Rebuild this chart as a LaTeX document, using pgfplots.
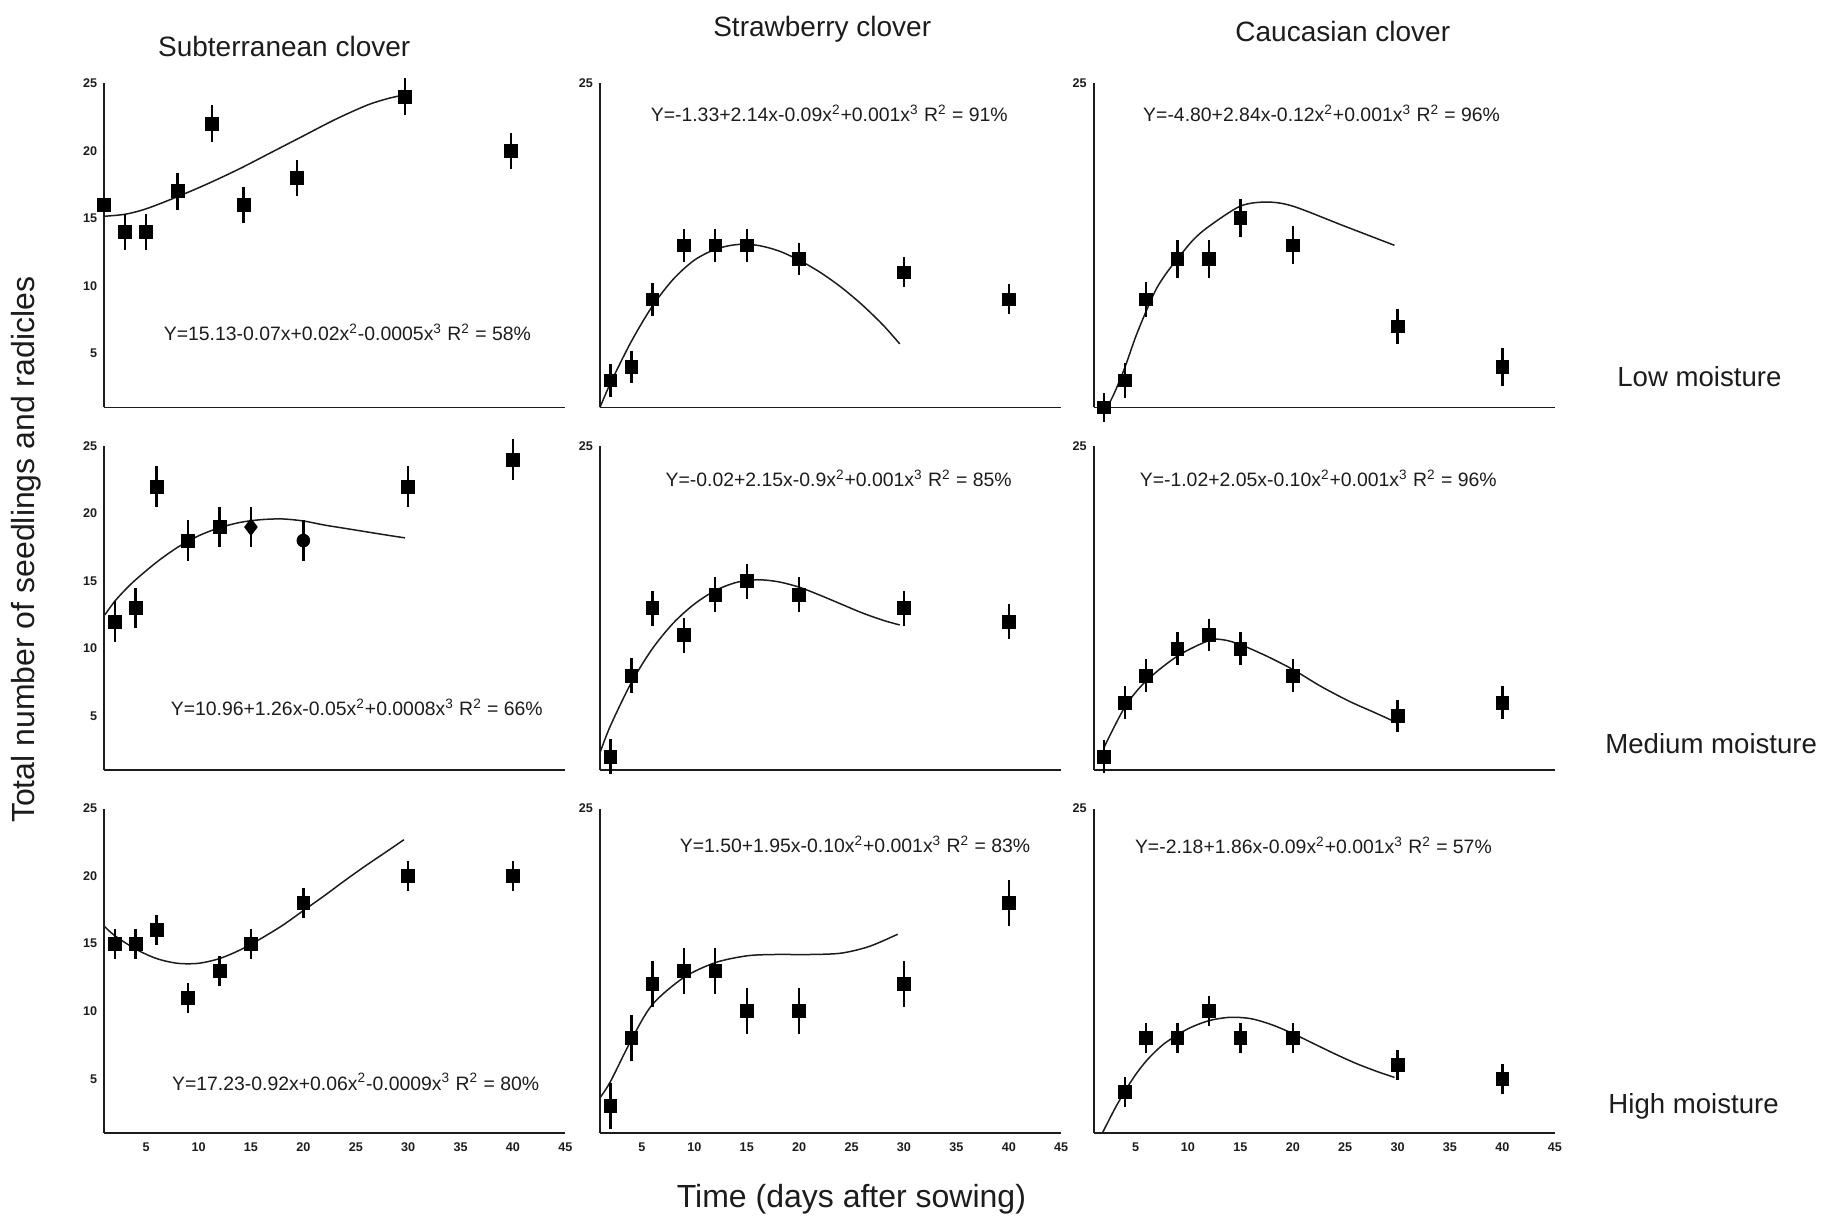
\documentclass[border=0pt]{standalone}
\usepackage{pgfplots}
\pgfplotsset{compat=1.18}
\usepackage{fontspec}
\setmainfont{Liberation Sans}
\definecolor{ink}{HTML}{1C1C1C}
\newcommand{\eqf}{\fontsize{9.7}{11}\selectfont}
\newcommand{\sq}[1]{\textsuperscript{#1}}
\begin{document}
\begin{tikzpicture}
\useasboundingbox (0pt,0pt) rectangle (917pt,-608pt);
\pgfplotsset{
  panel/.style={
    scale only axis, width=230.6pt, height=162.1pt,
    xmin=1, xmax=45, ymin=1, ymax=25,
    axis x line=bottom, axis y line=left,
    axis line style={ink, line width=0.9pt, -},
    major tick length=0pt,
    xtick=\empty, ytick={25},
    tick label style={font=\fontsize{6.3}{7}\selectfont\bfseries, text=ink},
    /pgf/number format/assume math mode=true,
    clip=false, anchor=south west,
  },
  leftcol/.style={ytick={5,10,15,20,25}},
  bottomrow/.style={xtick={5,10,...,45}, xticklabel shift=1.5pt},
  dat/.style={only marks, mark=square*, mark size=3.2pt, color=black,
    error bars/y dir=both, error bars/y explicit,
    error bars/error bar style={line width=1.15pt, black},
    error bars/error mark=none},
  fit/.style={no marks, smooth, color=ink, line width=0.75pt},
}
% ---------- Row 1: Low moisture ----------
\begin{axis}[panel, leftcol, at={(52.1pt,-203.7pt)}]
\addplot[fit] coordinates {(1,15.15) (3,15.3) (5,15.7) (8,16.6) (11,17.6) (14,18.7) (17,19.9) (20,21.1) (23,22.3) (26,23.35) (28,23.85) (29.7,24.15)};
\addplot[dat] table[x=x,y=y,y error=e,row sep=\\] {x y e\\ 1 16 0\\ 3 14 1.35\\ 5 14 1.35\\ 8 17 1.35\\ 11.3 22 1.35\\ 14.3 16 1.35\\ 19.4 18 1.35\\ 29.7 24 1.35\\ 39.8 20 1.35\\};
\end{axis}
\begin{axis}[panel, at={(300.0pt,-203.7pt)}]
\addplot[fit] coordinates {(1,1.0) (2,2.8) (4,5.9) (6,8.5) (8,10.5) (10,11.9) (12,12.7) (14,13.05) (16,13.0) (18,12.6) (20,11.9) (22,11.0) (24,9.9) (26,8.6) (28,7.1) (29.6,5.7)};
\addplot[dat] table[x=x,y=y,y error=e,row sep=\\] {x y e\\ 2 3 1.2\\ 4 4 1.2\\ 6 9 1.2\\ 9 13 1.2\\ 12 13 1.2\\ 15 13 1.2\\ 20 12 1.2\\ 30 11 1.1\\ 40 9 1.1\\};
\end{axis}
\begin{axis}[panel, at={(546.8pt,-203.7pt)}]
\addplot[fit] coordinates {(2.3,1.0) (3,2.1) (4,4.0) (5,6.2) (6,8.1) (7,9.8) (8,11.0) (9,12.0) (10.5,13.4) (12,14.4) (15,15.9) (17.5,16.2) (20,15.9) (25,14.4) (29.7,13.0)};
\addplot[dat] table[x=x,y=y,y error=e,row sep=\\] {x y e\\ 2 1 1.05\\ 4 3 1.3\\ 6 9 1.3\\ 9 12 1.4\\ 12 12 1.4\\ 15 15 1.4\\ 20 13 1.4\\ 30 7 1.3\\ 40 4 1.4\\};
\end{axis}
% ---------- Row 2: Medium moisture ----------
\begin{axis}[panel, leftcol, at={(52.1pt,-385.1pt)}]
\addplot[fit] coordinates {(1.06,12.5) (2,13.5) (3,14.35) (4,15.1) (6,16.4) (8,17.5) (10,18.35) (12,18.95) (14,19.35) (16,19.55) (18,19.6) (20,19.45) (22,19.15) (24,18.9) (26,18.65) (28,18.4) (29.7,18.2)};
\addplot[dat] table[x=x,y=y,y error=e,row sep=\\] {x y e\\ 2 12 1.5\\ 4 13 1.5\\ 6 22 1.5\\ 9 18 1.5\\ 12 19 1.5\\ 30 22 1.5\\ 40 24 1.5\\};
\addplot[dat, mark=diamond*, mark size=4.2pt] table[x=x,y=y,y error=e,row sep=\\] {x y e\\ 15 19 1.5\\};
\addplot[dat, mark=*, mark size=3.2pt] table[x=x,y=y,y error=e,row sep=\\] {x y e\\ 20 18 1.5\\};
\end{axis}
\begin{axis}[panel, at={(300.0pt,-385.1pt)}]
\addplot[fit] coordinates {(1,2.3) (2,4.3) (4,7.5) (6,10.0) (8,11.9) (10,13.3) (12,14.3) (14,14.9) (16,15.1) (18,14.95) (20,14.55) (22,13.95) (24,13.3) (26,12.65) (28,12.1) (29.6,11.75)};
\addplot[dat] table[x=x,y=y,y error=e,row sep=\\] {x y e\\ 2 2 1.3\\ 4 8 1.3\\ 6 13 1.3\\ 9 11 1.3\\ 12 14 1.3\\ 15 15 1.3\\ 20 14 1.3\\ 30 13 1.3\\ 40 12 1.3\\};
\end{axis}
\begin{axis}[panel, at={(546.8pt,-385.1pt)}]
\addplot[fit] coordinates {(2,2.7) (4,5.7) (6,7.6) (9,9.45) (12,10.6) (13.4,10.65) (15,10.3) (17.5,9.45) (20,8.46) (22.7,7.2) (25.4,6.1) (27.8,5.27) (29.7,4.6)};
\addplot[dat] table[x=x,y=y,y error=e,row sep=\\] {x y e\\ 2 2 1.2\\ 4 6 1.2\\ 6 8 1.2\\ 9 10 1.2\\ 12 11 1.2\\ 15 10 1.2\\ 20 8 1.2\\ 30 5 1.2\\ 40 6 1.2\\};
\end{axis}
% ---------- Row 3: High moisture ----------
\begin{axis}[panel, leftcol, bottomrow, at={(52.1pt,-566.4pt)}]
\addplot[fit] coordinates {(1,16.3) (2,15.6) (4,14.6) (6,13.9) (8,13.55) (10,13.55) (12,13.9) (14,14.55) (16,15.4) (18,16.35) (20,17.45) (22,18.55) (24,19.7) (26,20.8) (28,21.85) (29.6,22.7)};
\addplot[dat] table[x=x,y=y,y error=e,row sep=\\] {x y e\\ 2 15 1.1\\ 4 15 1.1\\ 6 16 1.1\\ 9 11 1.1\\ 12 13 1.1\\ 15 15 1.1\\ 20 18 1.1\\ 30 20 1.1\\ 40 20 1.1\\};
\end{axis}
\begin{axis}[panel, bottomrow, at={(300.0pt,-566.4pt)}]
\addplot[fit] coordinates {(1,3.6) (2,4.8) (4,7.9) (6,10.5) (9,12.5) (12,13.6) (15,14.1) (17.6,14.2) (21,14.2) (24,14.3) (26.7,14.8) (29.4,15.7)};
\addplot[dat] table[x=x,y=y,y error=e,row sep=\\] {x y e\\ 2 3 1.7\\ 4 8 1.7\\ 6 12 1.7\\ 9 13 1.7\\ 12 13 1.7\\ 15 10 1.7\\ 20 10 1.7\\ 30 12 1.7\\ 40 18 1.7\\};
\end{axis}
\begin{axis}[panel, bottomrow, at={(546.8pt,-566.4pt)}]
\addplot[fit] coordinates {(1.85,1.0) (3,2.75) (4,4.1) (5,5.3) (6,6.3) (7,7.1) (8,7.75) (10,8.7) (12,9.3) (14,9.55) (16,9.45) (18,9.0) (20,8.35) (22,7.6) (24,6.85) (26,6.15) (28,5.55) (29.7,5.1)};
\addplot[dat] table[x=x,y=y,y error=e,row sep=\\] {x y e\\ 4 4 1.1\\ 6 8 1.1\\ 9 8 1.1\\ 12 10 1.1\\ 15 8 1.1\\ 20 8 1.1\\ 30 6 1.1\\ 40 5 1.1\\};
\end{axis}
% ---------- Texts ----------
\begin{scope}[every node/.style={text=ink, inner sep=0pt}]
\node[font=\fontsize{14}{16}\selectfont] at (142.1pt,-23.4pt) {Subterranean clover};
\node[font=\fontsize{14}{16}\selectfont] at (411.1pt,-14.6pt) {Strawberry clover};
\node[font=\fontsize{14}{16}\selectfont] at (671.4pt,-15.8pt) {Caucasian clover};
\node[font=\fontsize{16}{18}\selectfont, rotate=90] at (12.9pt,-274.9pt) {Total number of seedlings and radicles};
\node[font=\fontsize{16}{18}\selectfont] at (425.7pt,-599.4pt) {Time (days after sowing)};
\node[font=\fontsize{13.8}{16}\selectfont] at (849.7pt,-188.3pt) {Low moisture};
\node[font=\fontsize{13.8}{16}\selectfont] at (855.6pt,-371.9pt) {Medium moisture};
\node[font=\fontsize{13.8}{16}\selectfont] at (846.8pt,-553.2pt) {High moisture};
\node[font=\eqf] at (173.7pt,-166.1pt) {Y=15.13-0.07x+0.02x\sq{2}-0.0005x\sq{3} R\sq{2} = 58\%};
\node[font=\eqf] at (414.6pt,-56.7pt) {Y=-1.33+2.14x-0.09x\sq{2}+0.001x\sq{3} R\sq{2} = 91\%};
\node[font=\eqf] at (660.8pt,-56.7pt) {Y=-4.80+2.84x-0.12x\sq{2}+0.001x\sq{3} R\sq{2} = 96\%};
\node[font=\eqf] at (178.4pt,-353.8pt) {Y=10.96+1.26x-0.05x\sq{2}+0.0008x\sq{3} R\sq{2} = 66\%};
\node[font=\eqf] at (419.3pt,-239.2pt) {Y=-0.02+2.15x-0.9x\sq{2}+0.001x\sq{3} R\sq{2} = 85\%};
\node[font=\eqf] at (659.1pt,-239.2pt) {Y=-1.02+2.05x-0.10x\sq{2}+0.001x\sq{3} R\sq{2} = 96\%};
\node[font=\eqf] at (177.8pt,-540.9pt) {Y=17.23-0.92x+0.06x\sq{2}-0.0009x\sq{3} R\sq{2} = 80\%};
\node[font=\eqf] at (427.5pt,-422.2pt) {Y=1.50+1.95x-0.10x\sq{2}+0.001x\sq{3} R\sq{2} = 83\%};
\node[font=\eqf] at (656.7pt,-422.8pt) {Y=-2.18+1.86x-0.09x\sq{2}+0.001x\sq{3} R\sq{2} = 57\%};
\end{scope}
\end{tikzpicture}
\end{document}
